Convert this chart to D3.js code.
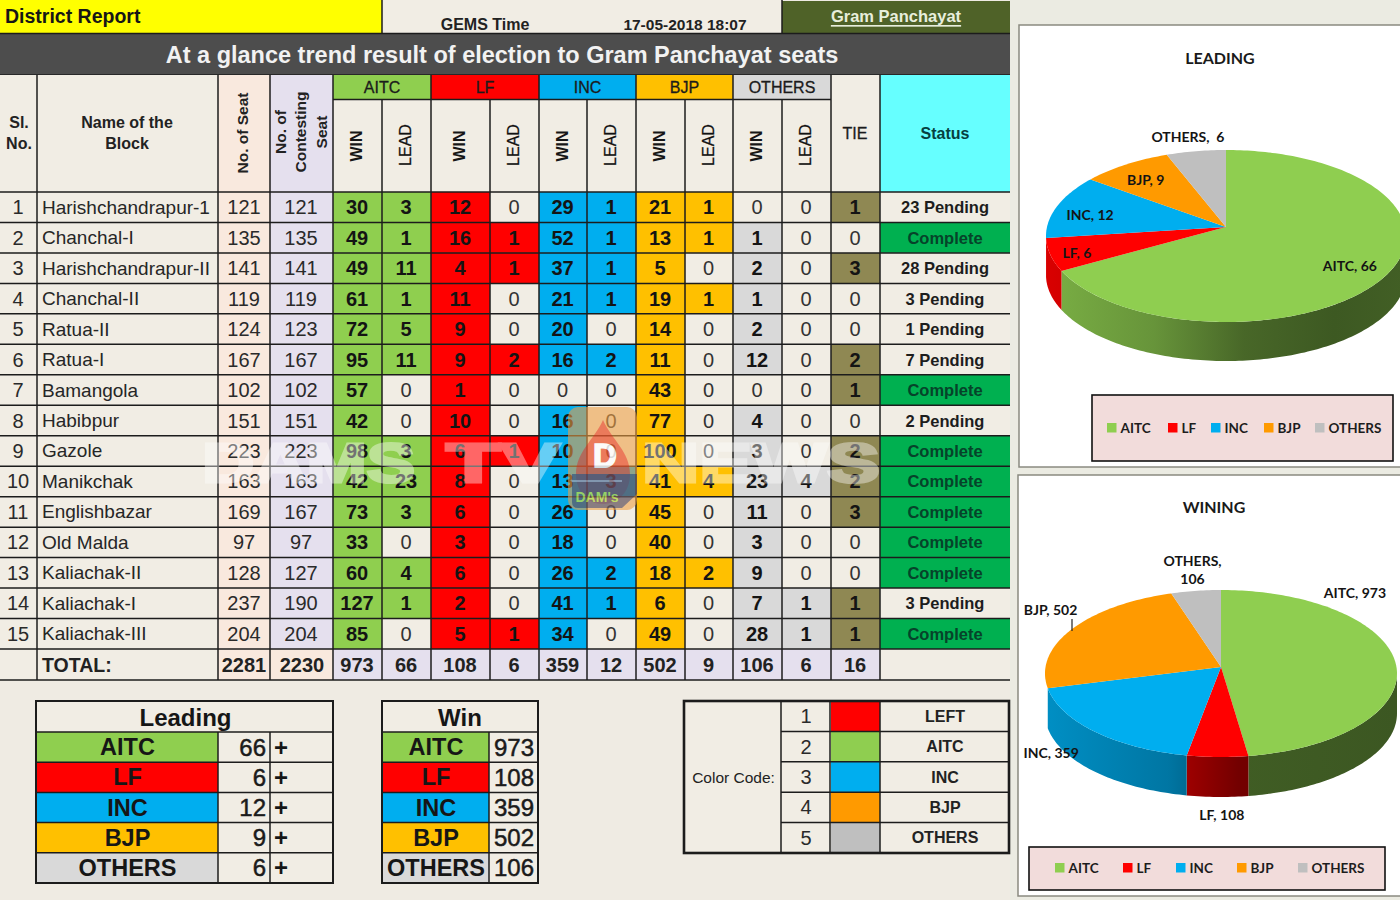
<!DOCTYPE html>
<html><head><meta charset="utf-8">
<script src="https://cdn.jsdelivr.net/npm/d3@7"></script>
<style>html,body{margin:0;padding:0;background:#efebe3;overflow:hidden}svg{display:block}</style>
</head><body>
<script>
// ---------- data ----------
const blocks=["Harishchandrapur-1","Chanchal-I","Harishchandrapur-II","Chanchal-II","Ratua-II","Ratua-I","Bamangola","Habibpur","Gazole","Manikchak","Englishbazar","Old Malda","Kaliachak-II","Kaliachak-I","Kaliachak-III"];
const seats=[121,135,141,119,124,167,102,151,223,163,169,97,128,237,204];
const contesting=[121,135,141,119,123,167,102,151,223,163,167,97,127,190,204];
const aitcWin=[30,49,49,61,72,95,57,42,98,42,73,33,60,127,85];
const aitcLead=[3,1,11,1,5,11,0,0,3,23,3,0,4,1,0];
const lfWin=[12,16,4,11,9,9,1,10,6,8,6,3,6,2,5];
const lfLead=[0,1,1,0,0,2,0,0,1,0,0,0,0,0,1];
const incWin=[29,52,37,21,20,16,0,16,10,13,26,18,26,41,34];
const incLead=[1,1,1,1,0,2,0,0,0,3,0,0,2,1,0];
const bjpWin=[21,13,5,19,14,11,43,77,100,41,45,40,18,6,49];
const bjpLead=[1,1,0,1,0,0,0,0,0,4,0,0,2,0,0];
const othWin=[0,1,2,1,2,12,0,4,3,23,11,3,9,7,28];
const othLead=[0,0,0,0,0,0,0,0,0,4,0,0,0,1,1];
const tieCounts=[1,0,3,0,0,2,1,0,2,2,3,0,0,1,1];
const statusText=["23 Pending","Complete","28 Pending","3 Pending","1 Pending","7 Pending","Complete","2 Pending","Complete","Complete","Complete","Complete","Complete","3 Pending","Complete"];
const parties=["AITC","LF","INC","BJP","OTHERS"];
const leadingTotals=[66,6,12,9,6];
const winTotals=[973,108,359,502,106];
const colorCodeNames=["LEFT","AITC","INC","BJP","OTHERS"];

// ---------- styles ----------
const CREAM="#f1ede4",PEACH="#f9e9de",LAV="#e5e0ee",LINE="#1c1c1c",TIEC="#8f8853";
const tableColor={AITC:"#8fcf4f",LF:"#ff0000",INC:"#00aeef",BJP:"#ffc000",OTHERS:"#d9d9d9"};
const pieColor={AITC:"#8fce50",LF:"#ff0000",INC:"#00aeef",BJP:"#ff9a00",OTHERS:"#bfbfbf"};
const AR="'Liberation Sans',Arial,sans-serif",CAL="Lato,'Open Sans',sans-serif";

const svg=d3.select("body").append("svg").attr("width",1400).attr("height",900);
const defs=svg.append("defs");
svg.append("rect").attr("width",1400).attr("height",900).attr("fill","#efebe3");
svg.append("rect").attr("x",1010).attr("width",390).attr("height",900).attr("fill","#ebebe2");

function txt(g,x,y,s,o={}){
  return g.append("text").attr("x",x).attr("y",y).text(s)
   .attr("text-anchor",o.a||"middle").attr("dominant-baseline","central")
   .attr("font-family",o.f||AR).attr("font-size",o.s||20).attr("font-weight",o.w||"normal")
   .attr("fill",o.c||"#161616").attr("text-decoration",o.d||null)
   .attr("transform",o.r?`rotate(${o.r} ${x} ${y})`:null);
}
function box(g,x0,y0,x1,y1,fill){return g.append("rect").attr("x",x0).attr("y",y0).attr("width",x1-x0).attr("height",y1-y0).attr("fill",fill);}
function ln(g,x0,y0,x1,y1,w=1.6,c=LINE){return g.append("line").attr("x1",x0).attr("y1",y0).attr("x2",x1).attr("y2",y1).attr("stroke",c).attr("stroke-width",w);}

// ---------- top bars ----------
const topBar=svg.append("g");
box(topBar,0,0,382,33,"#ffff00");
box(topBar,382,0,782,33,CREAM);
box(topBar,782,1,1010,33,"#4f6228");
txt(topBar,5,16,"District Report",{a:"start",s:19.5,w:"bold"});
txt(topBar,485,24,"GEMS Time",{s:16,w:"bold",c:"#222"});
txt(topBar,685,24,"17-05-2018 18:07",{s:15.5,w:"bold",c:"#222"});
txt(topBar,896,16,"Gram Panchayat",{s:16.5,w:"bold",c:"#e8eedc",d:"underline"});
ln(topBar,382,0,382,33,1.5);ln(topBar,782,0,782,33,1.5);
box(topBar,0,33,1010,75,"#4d4d4d");
txt(topBar,502,54.5,"At a glance trend result of election to Gram Panchayat seats",{s:23.5,w:"bold",c:"#f2f2f2"});
ln(topBar,0,33.5,1010,33.5,1.5);ln(topBar,0,75,1010,75,1.5);

// ---------- main table ----------
const colEdges=[0,37,218,270,333,382,431,490,539,587,636,685,733,782,831,880,1010];
const y=d3.scaleBand().domain(d3.range(15)).range([192,649]);
const partyCols=[["AITC",aitcWin,aitcLead],["LF",lfWin,lfLead],["INC",incWin,incLead],["BJP",bjpWin,bjpLead],["OTHERS",othWin,othLead]];
const tb=svg.append("g");
// header
box(tb,0,75,218,192,CREAM);
box(tb,218,75,270,192,PEACH);
box(tb,270,75,333,192,LAV);
box(tb,333,99,831,192,CREAM);
box(tb,831,75,880,192,CREAM);
box(tb,880,75,1010,192,"#66ffff");
partyCols.forEach((p,i)=>{
  const x0=colEdges[4+i*2],x1=colEdges[6+i*2];
  box(tb,x0,75,x1,99,tableColor[p[0]]);
  txt(tb,(x0+x1)/2,87,p[0],{s:16,c:"#1b1b1b"}).attr("stroke","#1b1b1b").attr("stroke-width",.3);
  txt(tb,(colEdges[4+i*2]+colEdges[5+i*2])/2-1,146,"WIN",{s:16,w:"bold",r:-90});
  txt(tb,(colEdges[5+i*2]+colEdges[6+i*2])/2-1,145,"LEAD",{s:16,r:-90,c:"#111"}).attr("stroke","#111").attr("stroke-width",.25);
});
txt(tb,19,122,"Sl.",{s:16,w:"bold",c:"#222"});txt(tb,19,143,"No.",{s:16,w:"bold",c:"#222"});
txt(tb,127,122,"Name of the",{s:16,w:"bold",c:"#222"});txt(tb,127,143,"Block",{s:16,w:"bold",c:"#222"});
txt(tb,242,133,"No. of Seat",{s:15.5,w:"bold",r:-90,c:"#222"});
txt(tb,280,132,"No. of",{s:15.5,w:"bold",r:-90,c:"#222"});
txt(tb,300,132,"Contesting",{s:15.5,w:"bold",r:-90,c:"#222"});
txt(tb,321,132,"Seat",{s:15.5,w:"bold",r:-90,c:"#222"});
txt(tb,855,133,"TIE",{s:16,c:"#1b1b1b"}).attr("stroke","#1b1b1b").attr("stroke-width",.3);
txt(tb,945,133,"Status",{s:16,w:"bold",c:"#063f40"});

// body
blocks.forEach((b,r)=>{
  const y0=y(r),y1=y0+y.bandwidth(),cy=(y0+y1)/2;
  box(tb,0,y0,218,y1,CREAM);
  txt(tb,18,cy,r+1,{s:20,c:"#2a2a2a"});
  txt(tb,42,cy,b,{a:"start",s:19,c:"#262626"});
  box(tb,218,y0,270,y1,PEACH);txt(tb,244,cy,seats[r],{s:20,c:"#2a2a2a"});
  box(tb,270,y0,333,y1,LAV);txt(tb,301,cy,contesting[r],{s:20,c:"#2a2a2a"});
  partyCols.forEach((p,i)=>{
    [p[1],p[2]].forEach((arr,k)=>{
      const x0=colEdges[4+i*2+k],x1=colEdges[5+i*2+k],v=arr[r];
      box(tb,x0,y0,x1,y1,v>0?tableColor[p[0]]:CREAM);
      txt(tb,(x0+x1)/2-.5,cy,v,{s:20,w:v>0?"bold":"normal",c:v>0?"#141414":"#333"});
    });
  });
  box(tb,831,y0,880,y1,tieCounts[r]>0?TIEC:CREAM);
  txt(tb,855,cy,tieCounts[r],{s:20,w:tieCounts[r]>0?"bold":"normal",c:tieCounts[r]>0?"#141414":"#333"});
  const done=statusText[r]==="Complete";
  box(tb,880,y0,1010,y1,done?"#00b050":CREAM);
  txt(tb,945,cy,statusText[r],{s:16.5,w:"bold",c:done?"#06432a":"#1d1d1d"});
});
// totals
const sum=a=>d3.sum(a);
const totalY0=649,totalY1=680,tcy=664.5;
box(tb,0,totalY0,218,totalY1,CREAM);
txt(tb,42,tcy,"TOTAL:",{a:"start",s:19.5,w:"bold",c:"#222"});
box(tb,218,totalY0,333,totalY1,PEACH);
txt(tb,244,tcy,sum(seats),{w:"bold",c:"#222"});txt(tb,302,tcy,sum(contesting),{w:"bold",c:"#222"});
box(tb,333,totalY0,880,totalY1,LAV);
partyCols.forEach((p,i)=>{
  [p[1],p[2]].forEach((arr,k)=>{
    txt(tb,(colEdges[4+i*2+k]+colEdges[5+i*2+k])/2-.5,tcy,sum(arr),{w:"bold",c:"#222"});
  });
});
txt(tb,855,tcy,sum(tieCounts),{w:"bold",c:"#222"});
box(tb,880,totalY0,1010,totalY1,CREAM);
// grid lines
y.domain().forEach(r=>ln(tb,0,y(r),1010,y(r),1.5));
ln(tb,0,649,1010,649,1.5);ln(tb,0,680,1010,680,1.5);
[37,218,270,333,431,539,636,733,831,880].forEach(x=>ln(tb,x,75,x,680,1.5));
[382,490,587,685,782].forEach(x=>ln(tb,x,99,x,680,1.5));
ln(tb,333,99.5,831,99.5,1.5);

// ---------- bottom tables ----------
const bt=svg.append("g");
const rowY=d3.scaleBand().domain(d3.range(5)).range([732,883]);
box(bt,36,701,333,883,CREAM);
txt(bt,185.5,717,"Leading",{s:24,w:"bold"});
box(bt,382,701,538,883,CREAM);
txt(bt,460,717,"Win",{s:24,w:"bold"});
parties.forEach((p,i)=>{
  const y0=rowY(i),y1=y0+rowY.bandwidth(),cy=(y0+y1)/2;
  box(bt,36,y0,218,y1,tableColor[p]);
  txt(bt,127.5,cy,p,{s:23.5,w:"bold"});
  txt(bt,266,cy,leadingTotals[i],{a:"end",s:24,c:"#1b1b1b"}).attr("stroke","#1b1b1b").attr("stroke-width",.5);
  txt(bt,281,cy,"+",{s:24,w:"bold"});
  box(bt,382,y0,489,y1,tableColor[p]);
  txt(bt,436,cy,p,{s:23.5,w:"bold"});
  txt(bt,514,cy,winTotals[i],{s:24,c:"#1b1b1b"}).attr("stroke","#1b1b1b").attr("stroke-width",.5);
  ln(bt,36,y0,333,y0,1.5);ln(bt,382,y0,538,y0,1.5);
});
ln(bt,218,732,218,883,1.5);ln(bt,270,732,270,883,1.5);ln(bt,489,732,489,883,1.5);
[[36,701,297,182],[382,701,156,182]].forEach(d=>bt.append("rect").attr("x",d[0]).attr("y",d[1]).attr("width",d[2]).attr("height",d[3]).attr("fill","none").attr("stroke",LINE).attr("stroke-width",2));

// colour code
const cc=svg.append("g");
box(cc,684,701,1009,853,CREAM);
txt(cc,733.5,777,"Color Code:",{s:15.5,c:"#222"});
const ccSw=[pieColor.LF,pieColor.AITC,pieColor.INC,pieColor.BJP,pieColor.OTHERS];
const ccY=d3.scaleBand().domain(d3.range(5)).range([701,853]);
colorCodeNames.forEach((n,i)=>{
  const y0=ccY(i),y1=y0+ccY.bandwidth(),cy=(y0+y1)/2;
  txt(cc,806,cy,i+1,{s:20,c:"#2a2a2a"});
  box(cc,831,y0,880,y1,ccSw[i]);
  txt(cc,945,cy,n,{s:16,w:"bold",c:"#222"});
  if(i)ln(cc,781,y0,1009,y0,1.5);
});
[781,830,880].forEach(x=>ln(cc,x,701,x,853,1.5));
cc.append("rect").attr("x",684).attr("y",701).attr("width",325).attr("height",152).attr("fill","none").attr("stroke",LINE).attr("stroke-width",2.6);

// ---------- pies ----------
function shade(c,k){const q=d3.rgb(c);return d3.rgb(q.r*k,q.g*k,q.b*k).formatHex();}
const PERSPECTIVE=7*Math.PI/180; // angle shift of the tilted pie's far-left side
function drawPie(o){
  const g=svg.append("g");
  box(g,o.panel[0],o.panel[1],o.panel[2],o.panel[3],"#ffffff").attr("stroke","#8a8a80").attr("stroke-width",1.5);
  txt(g,o.titleX,o.titleY,o.title,{f:CAL,s:16,w:"bold",c:"#1a1a1a"});
  const arcs=d3.pie().value(d=>d.v).sort(null)(o.values.map((v,i)=>({k:parties[i],v})));
  const rim0=(a)=>[o.cx+o.rx*Math.sin(a),o.cy-o.ry*Math.cos(a)];
  const warp=a=>a+PERSPECTIVE*Math.max(0,-Math.sin(a));
  const rim=(a,dy=0)=>{const p=rim0(warp(a));return [p[0],p[1]+dy];};
  const samples=(a0,a1)=>{const n=Math.max(2,Math.ceil((a1-a0)/0.02));return d3.range(n+1).map(i=>a0+(a1-a0)*i/n);};
  const line=d3.line();
  // side wall: only slices that start on the visible front of the pie
  arcs.forEach((s,i)=>{
    if(warp(s.startAngle)>=255*Math.PI/180)return;
    const a0=Math.max(s.startAngle,Math.PI/2),a1=s.endAngle;
    if(a1<=a0)return;
    const id=o.id+"w"+i,c=pieColor[s.data.k],st=o.wall;
    const gr=defs.append("linearGradient").attr("id",id).attr("gradientUnits","userSpaceOnUse")
      .attr("x1",o.cx-o.rx).attr("x2",o.cx+o.rx).attr("y1",0).attr("y2",0);
    st.forEach(d=>gr.append("stop").attr("offset",d[0]).attr("stop-color",shade(c,d[1])));
    const as=samples(a0,a1);
    const pts=as.map(a=>rim(a)).concat(as.slice().reverse().map(a=>rim(a,o.depth)));
    g.append("path").attr("d",line(pts)+"Z").attr("fill",`url(#${id})`);
  });
  // top surface
  arcs.forEach(s=>{
    const pts=[[o.cx,o.apexY]].concat(samples(s.startAngle,s.endAngle).map(a=>rim(a)));
    g.append("path").attr("d",line(pts)+"Z").attr("fill",pieColor[s.data.k]);
  });
  // data labels
  arcs.forEach((s,i)=>{
    const p=rim0((s.startAngle+s.endAngle)/2),d=o.labelOffset[i];
    const lines=o.labelText(s.data,i);
    lines.forEach((t,j)=>txt(g,p[0]+d[0],p[1]+d[1]+j*18,t,{f:CAL,s:14,w:"bold",c:"#141414"}));
  });
  if(o.after)o.after(g);
  // legend
  box(g,o.legend[0],o.legend[1],o.legend[2],o.legend[3],"#f2dcdb").attr("stroke","#111").attr("stroke-width",1.6);
  parties.forEach((p,i)=>{
    const sx=o.legendX[i];
    box(g,sx,o.legendY-5,sx+9.5,o.legendY+4.5,pieColor[p]);
    txt(g,sx+13.5,o.legendY,p,{a:"start",f:CAL,s:13.5,w:"bold",c:"#1d1d1d"});
  });
}
const wallLeading=[[0,.85],[.3,.72],[.55,.5],[.8,.43],[1,.46]];
const wallWinning=[[0,.82],[.35,.68],[.55,.45],[1,.42]];
drawPie({id:"lead",title:"LEADING",titleX:1220,titleY:57.5,panel:[1019,25,1402,467],values:leadingTotals,
  cx:1226,cy:236,apexY:227,rx:180,ry:86,depth:39,wall:wallLeading,
  labelOffset:[[-32,-14],[21,-12],[39,-1],[31,11],[-4,-15]],
  labelText:(d)=>[d.k==="OTHERS"?d.k+",\u00a0 "+d.v:d.k+", "+d.v],
  legend:[1092,395,1393,461],legendX:[1107,1168,1211,1264,1315],legendY:428});
drawPie({id:"win",title:"WINING",titleX:1214,titleY:506,panel:[1018,475,1402,896],values:winTotals,
  cx:1221,cy:673.5,apexY:667,rx:176,ry:83.5,depth:40,wall:wallWinning,
  labelOffset:[[-41.5,-74],[2.5,58],[-53,17],[-14,-26],[0,-31]],
  labelText:(d)=>d.k==="OTHERS"?[d.k+",",String(d.v)]:[d.k+", "+d.v],
  after:g=>ln(g,1072,619,1072,631,1.2,"#222"),
  legend:[1029,847,1385,890],legendX:[1055,1123,1176,1237,1298],legendY:868});

// ---------- watermark ----------
const wm=svg.append("g").attr("opacity",.4);
const wmT=(x,len,s)=>wm.append("text").attr("x",x).attr("y",482).text(s)
  .attr("font-family","'Liberation Sans',sans-serif").attr("font-size",56).attr("font-weight","bold")
  .attr("fill","#ffffff").attr("stroke","#ffffff").attr("stroke-width",3)
  .attr("textLength",len).attr("lengthAdjust","spacingAndGlyphs");
wmT(202,213,"DAMS");wmT(446,114,"TV");wmT(642,238,"NEWS");
const lg=svg.append("g").attr("opacity",.82);
lg.append("rect").attr("x",568).attr("y",407).attr("width",69).attr("height",103).attr("rx",10).attr("fill","#ee9f45").attr("opacity",.72);
lg.append("path").attr("d","M603 420 C594 440 576 452 576 474 C576 492 588 504 603 504 C618 504 630 492 630 474 C630 452 612 440 603 420Z").attr("fill","#e8432a").attr("opacity",.72);
lg.append("path").attr("d","M572 474 L637 474 L637 494 L622 508 L578 508 Q572 508 572 502Z").attr("fill","#44466a").attr("opacity",.72);
lg.append("line").attr("x1",572).attr("x2",622).attr("y1",481).attr("y2",481).attr("stroke","#cfd6e6").attr("stroke-width",1.2);
txt(lg,605,455,"D",{s:33,w:"bold",c:"#ffffff"}).attr("stroke","#ffffff").attr("stroke-width",1.5);
txt(lg,597,497,"DAM's",{s:14,w:"bold",c:"#b5d94a"});
</script>
</body></html>
